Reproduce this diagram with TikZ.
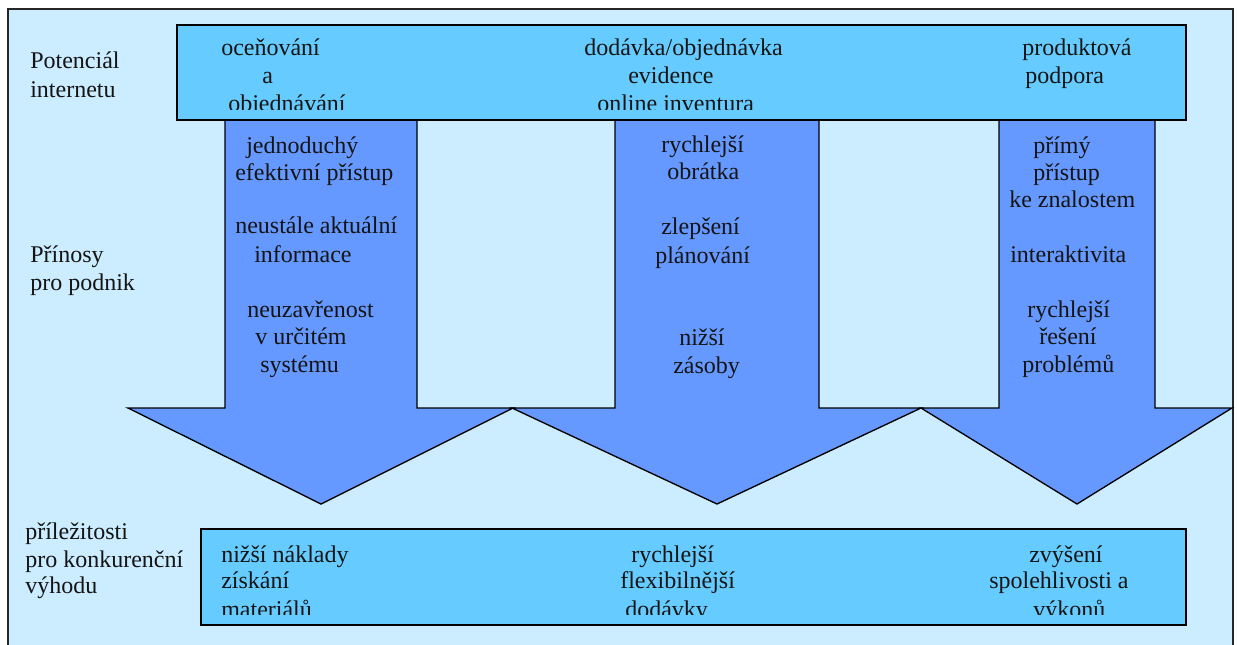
\documentclass[tikz,border=0pt]{standalone}
\usepackage{fontspec}
\setmainfont{Liberation Serif}
\definecolor{bgblue}{HTML}{CCECFF}
\definecolor{boxblue}{HTML}{66CCFF}
\definecolor{arrowblue}{HTML}{6699FF}
\begin{document}
\begin{tikzpicture}[x=0.75pt,y=-0.75pt,
  frame/.style={draw=black!85,line width=1.2pt,fill=bgblue},
  bandbox/.style={draw=black,line width=1.3pt,fill=boxblue},
  bigarrow/.style={draw=black,line width=1pt,fill=arrowblue,line join=miter},
  txt/.style={inner sep=0pt,anchor=base west,font=\fontsize{18pt}{20pt}\selectfont,text=black!92}]
\useasboundingbox (0,0) rectangle (1239,644);
% outer frame
\path[frame] (8,9) rectangle (1233,700);
% arrows
\path[bigarrow] (225,100) -- (417,100) -- (417,408) -- (513,408) -- (321,504) -- (128,408) -- (225,408) -- cycle;
\path[bigarrow] (615,100) -- (819,100) -- (819,408) -- (921,408) -- (717,504) -- (512,408) -- (615,408) -- cycle;
\path[bigarrow] (999,100) -- (1155,100) -- (1155,408) -- (1232,408) -- (1077,504) -- (921,408) -- (999,408) -- cycle;
% bands
\node[bandbox,inner sep=0pt,minimum width=1009*0.75pt,minimum height=95*0.75pt,anchor=north west] (top) at (176,24) {};
\node[bandbox,inner sep=0pt,minimum width=985*0.75pt,minimum height=96*0.75pt,anchor=north west] (bottom) at (200,528) {};
% left labels
\node[txt] (l1) at (30,68) {Potenciál};
\node[txt] (l2) at (30,97) {internetu};
\node[txt] (l3) at (30,262) {Přínosy};
\node[txt] (l4) at (30,290) {pro podnik};
\node[txt] (l5) at (25,539) {příležitosti};
\node[txt] (l6) at (25,567) {pro konkurenční};
\node[txt] (l7) at (25,593) {výhodu};
% top band texts (clipped)
\begin{scope}
\clip (176,24) rectangle (1185,109);
\node[txt] (a1) at (221,55) {oceňování};
\node[txt] (a2) at (262,83) {a};
\node[txt] (a3) at (228,111) {objednávání};
\node[txt] (b1) at (584,55) {dodávka/objednávka};
\node[txt] (b2) at (628,83) {evidence};
\node[txt] (b3) at (597,111) {online inventura};
\node[txt] (c1) at (1022,55) {produktová};
\node[txt] (c2) at (1025,83) {podpora};
\end{scope}
% arrow 1 texts
\node[txt] (d1) at (246,153) {jednoduchý};
\node[txt] (d2) at (235,180) {efektivní přístup};
\node[txt] (d3) at (235,233) {neustále aktuální};
\node[txt] (d4) at (254,262) {informace};
\node[txt] (d5) at (247,317) {neuzavřenost};
\node[txt] (d6) at (255,344) {v určitém};
\node[txt] (d7) at (260,372) {systému};
% arrow 2 texts
\node[txt] (e1) at (661,152) {rychlejší};
\node[txt] (e2) at (667,179) {obrátka};
\node[txt] (e3) at (661,234) {zlepšení};
\node[txt] (e4) at (655,263) {plánování};
\node[txt] (e5) at (679,345) {nižší};
\node[txt] (e6) at (673,373) {zásoby};
% arrow 3 texts
\node[txt] (f1) at (1033,153) {přímý};
\node[txt] (f2) at (1033,180) {přístup};
\node[txt] (f3) at (1009,207) {ke znalostem};
\node[txt] (f4) at (1010,262) {interaktivita};
\node[txt] (f5) at (1027,317) {rychlejší};
\node[txt] (f6) at (1039,344) {řešení};
\node[txt] (f7) at (1022,372) {problémů};
% bottom band texts (clipped)
\begin{scope}
\clip (200,528) rectangle (1185,614);
\node[txt] (g1) at (221,562) {nižší náklady};
\node[txt] (g2) at (221,588) {získání};
\node[txt] (g3) at (221,617) {materiálů};
\node[txt] (h1) at (631,562) {rychlejší};
\node[txt] (h2) at (620,588) {flexibilnější};
\node[txt] (h3) at (625,617) {dodávky};
\node[txt] (k1) at (1029,562) {zvýšení};
\node[txt] (k2) at (989,588) {spolehlivosti a};
\node[txt] (k3) at (1033,617) {výkonů};
\end{scope}
\end{tikzpicture}
\end{document}
